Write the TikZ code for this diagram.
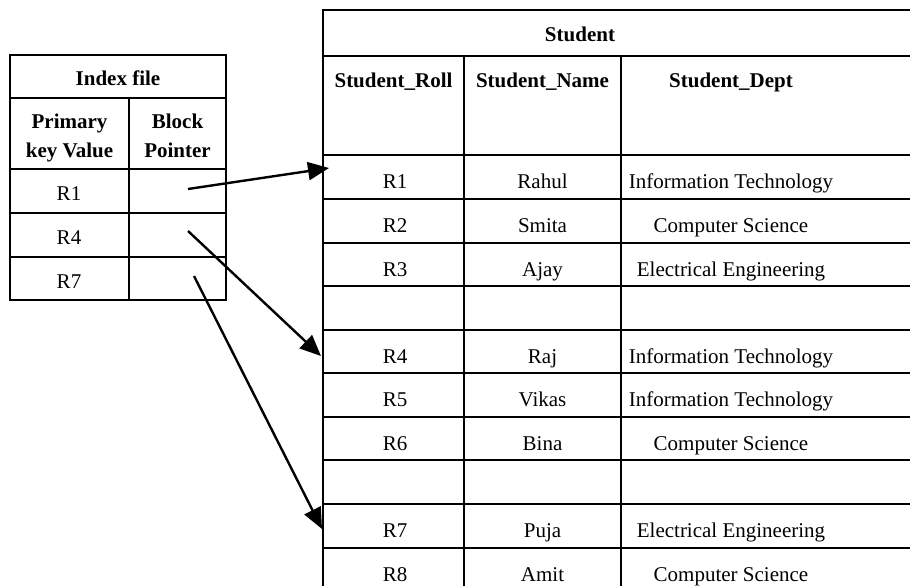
\documentclass[tikz,border=0pt]{standalone}
\usepackage{fontspec}
\setmainfont{Liberation Serif}
\usetikzlibrary{arrows.meta}
\begin{document}
\begin{tikzpicture}[x=1pt,y=-1pt,
  grid/.style={line width=2.6pt,line cap=rect},
  cell/.style={anchor=base,inner sep=0pt,font=\fontsize{21}{25}\selectfont},
  hcell/.style={cell,font=\fontsize{21}{25}\selectfont\bfseries},
  ptr/.style={line width=2.4pt,-{Triangle[length=21pt,width=18pt]}}]
\useasboundingbox (0,0) rectangle (910,586);
% ---------- Index file table ----------
\draw[grid] (10,55) rectangle (226,300);
\foreach \yy in {98,169,213,257} \draw[grid] (10,\yy) -- (226,\yy);
\draw[grid] (129,98) -- (129,300);
\node[hcell] (ixtitle) at (118,85) {Index file};
\node[hcell] (pk1) at (69.5,128) {Primary};
\node[hcell] (pk2) at (69.5,157) {key Value};
\node[hcell] (bp1) at (177.5,128) {Block};
\node[hcell] (bp2) at (177.5,157) {Pointer};
\node[cell] (ir1) at (69,200) {R1};
\node[cell] (ir4) at (69,244) {R4};
\node[cell] (ir7) at (69,288) {R7};
% ---------- Student table ----------
\draw[grid] (323,10) -- (910,10);
\draw[grid] (323,56) -- (910,56);
\foreach \yy in {155,199,243,286,330,373,417,460,504,548} \draw[grid] (323,\yy) -- (910,\yy);
\draw[grid] (323,10) -- (323,586);
\draw[grid] (464,56) -- (464,586);
\draw[grid] (621,56) -- (621,586);
\node[hcell] (sttitle) at (580,42) {Student};
\node[hcell] (hroll) at (393.5,88) {Student\_Roll};
\node[hcell] (hname) at (542.5,88) {Student\_Name};
\node[hcell] (hdept) at (731,88) {Student\_Dept};
% rows
\node[cell] (s1a) at (395,188) {R1};
\node[cell] (s1b) at (542.5,188) {Rahul};
\node[cell] (s1c) at (731,188) {Information Technology};
\node[cell] (s2a) at (395,232) {R2};
\node[cell] (s2b) at (542.5,232) {Smita};
\node[cell] (s2c) at (731,232) {Computer Science};
\node[cell] (s3a) at (395,276) {R3};
\node[cell] (s3b) at (542.5,276) {Ajay};
\node[cell] (s3c) at (731,276) {Electrical Engineering};
\node[cell] (s4a) at (395,363) {R4};
\node[cell] (s4b) at (542.5,363) {Raj};
\node[cell] (s4c) at (731,363) {Information Technology};
\node[cell] (s5a) at (395,406) {R5};
\node[cell] (s5b) at (542.5,406) {Vikas};
\node[cell] (s5c) at (731,406) {Information Technology};
\node[cell] (s6a) at (395,450) {R6};
\node[cell] (s6b) at (542.5,450) {Bina};
\node[cell] (s6c) at (731,450) {Computer Science};
\node[cell] (s7a) at (395,537) {R7};
\node[cell] (s7b) at (542.5,537) {Puja};
\node[cell] (s7c) at (731,537) {Electrical Engineering};
\node[cell] (s8a) at (395,581) {R8};
\node[cell] (s8b) at (542.5,581) {Amit};
\node[cell] (s8c) at (731,581) {Computer Science};
% ---------- pointers ----------
\coordinate (p1) at (188,189);
\coordinate (p4) at (188,231);
\coordinate (p7) at (194,276);
\coordinate (t1) at (329,168);
\coordinate (t4) at (321,356);
\coordinate (t7) at (322,529);
\draw[ptr] (p1) -- (t1);
\draw[ptr] (p4) -- (t4);
\draw[ptr] (p7) -- (t7);
\end{tikzpicture}
\end{document}
